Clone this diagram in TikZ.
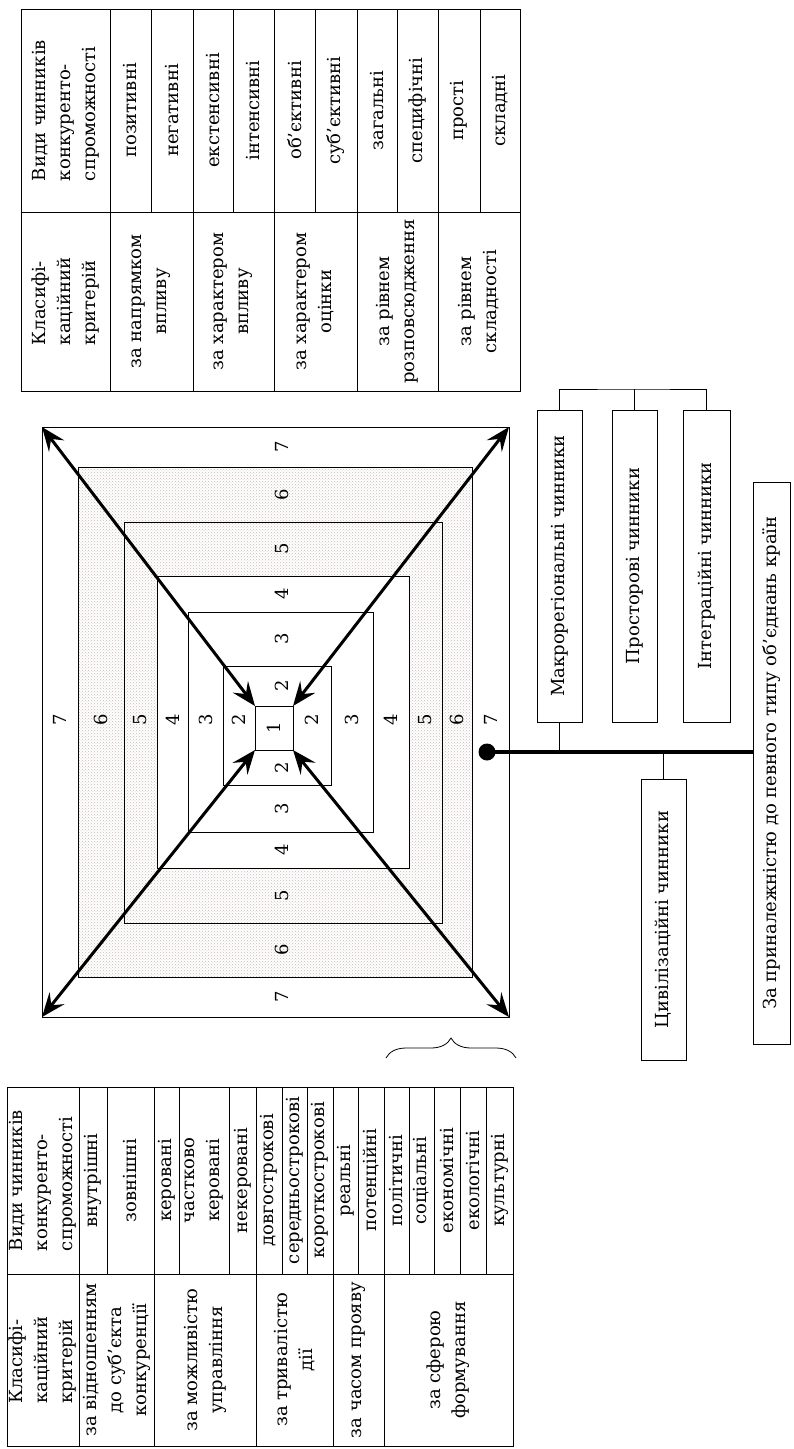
\documentclass[tikz,border=0pt]{standalone}
\usepackage{fontspec}
\setmainfont{DejaVu Serif}
\usetikzlibrary{arrows.meta,patterns,decorations.pathreplacing}
\newcommand\cellfont{\fontsize{18}{25}\selectfont}
\definecolor{pinkdots}{RGB}{200,186,184}

\begin{document}
\begin{tikzpicture}[x=1pt,y=-1pt,
  tab/.style={line width=1pt},
  txt/.style={rotate=90, align=center, font=\cellfont, inner sep=0pt},
  hdr/.style={txt, align=left},
  num/.style={rotate=90, font=\cellfont, inner sep=0pt},
  ring/.style={draw, line width=1pt, inner sep=0pt, outer sep=0pt},
  box/.style={draw, rotate=90, line width=1pt, inner sep=0pt, font=\cellfont, minimum height=45pt},
  arr/.style={{Stealth[length=24pt,width=19pt,inset=9pt]}-{Stealth[length=24pt,width=19pt,inset=9pt]}, line width=3pt}]
	\fill[white] (0,0) rectangle (794,1449);
	\useasboundingbox (0,0) rectangle (794,1449);

	% table of factors (top)
	\draw[tab] (21,9) rectangle (520,391);
	\draw[tab] (110,9) -- (110,391);
	\draw[tab] (21,212) -- (520,212);
	\foreach \x in {151,193,233,274,315,357,397,438,480} \draw[tab] (\x,9) -- (\x,212);
	\foreach \x in {193,274,357,438} \draw[tab] (\x,212) -- (\x,391);

	\node[hdr] (kindA) at (65.5,110.5) {Види чинників\\конкуренто-\\спроможності};
	\node[hdr] (critA) at (65.5,301.5) {Класифі-\\каційний\\критерій};
	\foreach \x/\t [count=\i] in {130.5/позитивні, 172/негативні, 213/екстенсивні, 253.5/інтенсивні,
	    294.5/об'єктивні, 336/суб'єктивні, 377/загальні, 417.5/специфічні, 459/прості, 500/складні}
	  \node[txt] (kindA\i) at (\x,110.5) {\t};
	\foreach \x/\t [count=\i] in {151.5/{за напрямком\\впливу}, 233.5/{за характером\\впливу},
	    315.5/{за характером\\оцінки}, 397.5/{за рівнем\\розповсюдження}, 479/{за рівнем\\складності}}
	  \node[txt] (critA\i) at (\x,301.5) {\t};

	% table of factors (bottom)
	\draw[tab] (7,1087) rectangle (513,1446);
	\draw[tab] (79,1087) -- (79,1446);
	\draw[tab] (7,1274) -- (513,1274);
	\foreach \x in {107,154,179,229,256,282,307,333,358,384,409,434,460,486} \draw[tab] (\x,1087) -- (\x,1274);
	\foreach \x in {154,256,333,384} \draw[tab] (\x,1274) -- (\x,1446);

	\node[hdr] (kindB) at (43,1180.5) {Види чинників\\конкуренто-\\спроможності};
	\node[hdr] (critB) at (43,1360) {Класифі-\\каційний\\критерій};
	\foreach \x/\t [count=\i] in {93/внутрішні, 130.5/зовнішні, 166.5/керовані, 204/{частково\\керовані},
	    242.5/некеровані, 269/довгострокові, 294.5/середньострокові, 320/короткострокові,
	    345.5/реальні, 371/потенційні, 396.5/політичні, 421.5/соціальні, 447/економічні,
	    473/екологічні, 499.5/культурні}
	  \node[txt] (kindB\i) at (\x,1180.5) {\t};
	\foreach \x/\t [count=\i] in {116.5/{за відношенням\\до суб'єкта\\конкуренції}, 205/{за можливістю\\управління},
	    294.5/{за тривалістю\\дії}, 358.5/за часом прояву, 448.5/{за сферою\\формування}}
	  \node[txt] (critB\i) at (\x,1360) {\t};

	% nested levels 1..7
	\node[ring, minimum width=467pt, minimum height=590pt] (r7) at (275.5,722) {};
	\node[ring, pattern=crosshatch dots, pattern color=pinkdots, minimum width=394pt, minimum height=510pt] (r6) at (275,722) {};
	\node[ring, minimum width=318pt, minimum height=401pt] (r5) at (283,722.5) {};
	\node[ring, fill=white, minimum width=252pt, minimum height=292pt] (r4) at (283,722) {};
	\node[ring, fill=white, minimum width=185pt, minimum height=220pt] (r3) at (280.5,722) {};
	\node[ring, fill=white, minimum width=108pt, minimum height=119pt] (r2) at (277,725.5) {};
	\node[ring, fill=white, minimum width=38pt, minimum height=44pt] (r1) at (274,728) {};

	\node[num] (n1) at (274,728) {1};
	\foreach \k/\t/\b/\l/\r in {2/686/767.5/239/312, 3/639/808.5/205.5/352, 4/594/850/172.5/391,
	    5/549/895.5/140.5/425.5, 6/494.5/950/101/457, 7/447/997/60/490.5} {
	  \node[num] (top\k) at (282,\t) {\k};
	  \node[num] (bot\k) at (282,\b) {\k};
	  \node[num] (lft\k) at (\l,720) {\k};
	  \node[num] (rgt\k) at (\r,720) {\k};
	}

	\draw[arr] (r7.north west) -- (r1.north west);
	\draw[arr] (r7.south west) -- (r1.south west);
	\draw[arr] (r7.north east) -- (r1.north east);
	\draw[arr] (r7.south east) -- (r1.south east);

	\draw[decorate, decoration={brace, amplitude=20pt}, line width=0.8pt] (386,1058) -- (516,1058);

	% groups of factors
	\node[box, minimum width=312pt] (macro) at (559.5,566) {Макрорегіональні чинники};
	\node[box, minimum width=312pt] (space) at (634.5,566) {Просторові чинники};
	\node[box, minimum width=312pt, minimum height=47pt] (integr) at (706.5,566) {Інтеграційні чинники};
	\node[box, minimum width=281pt] (civil) at (663.5,919.5) {Цивілізаційні чинники};
	\node[box, minimum width=562pt, minimum height=37pt] (union) at (771.5,763) {За приналежністю до певного типу об'єднань країн};

	\node[circle, fill, inner sep=0pt, minimum size=17pt] (hub) at (487,752) {};
	\coordinate (join) at (634.5,389);

	\draw[tab] (macro.east) |- (join) -| (integr.east);
	\draw[tab] (space.east) -- (join);
	\draw[tab] (macro.west) -- (macro.west |- hub);
	\draw[tab] (civil.east) -- (civil.east |- hub);
	\draw[line width=3.5pt] (hub.center) -- (hub -| union.north);
\end{tikzpicture}
\end{document}
